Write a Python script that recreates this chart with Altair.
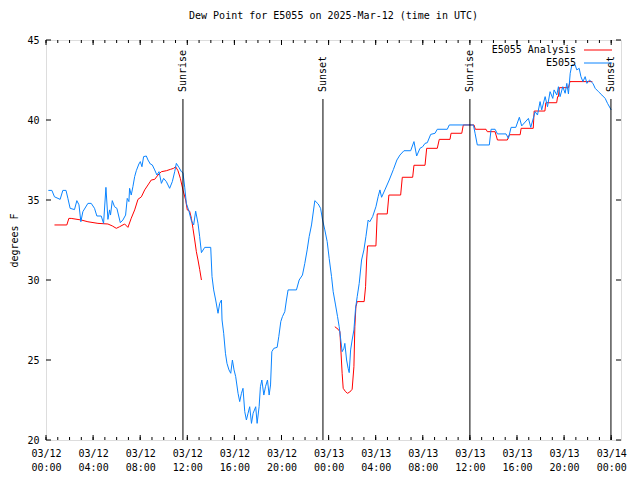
import altair as alt
import pandas as pd

FONT = "DejaVu Sans Mono"
title_text = "Dew Point for E5055 on 2025-Mar-12 (time in UTC)"
y_title = "degrees F"
series_names = ["E5055 Analysis", "E5055"]
series_colors = ["#ff0000", "#0a84ff"]

# observed dew point (hours since 2025-03-12 00:00 UTC)
blue_hours = [0.2, 0.5, 0.72, 1.2, 1.43, 1.7, 1.86, 2.05, 2.42, 2.62, 2.8, 2.96, 3.13, 3.56, 3.84, 4.12,
              4.32, 4.69, 4.89, 5.09, 5.26, 5.4, 5.48, 5.63, 5.82, 6.02, 6.31, 6.53, 6.76, 6.9, 7.04, 7.1,
              7.24, 7.38, 7.53, 7.67, 7.89, 8.01, 8.15, 8.29, 8.52, 8.66, 8.86, 9.03, 9.23, 9.42, 9.6, 9.8,
              9.99, 10.22, 10.5, 10.73, 10.93, 11.07, 11.29, 11.5, 11.63, 11.78, 11.92, 12.14, 12.35, 12.54,
              12.71, 12.91, 13.05, 13.2, 13.48, 13.99, 14.1, 14.24, 14.41, 14.61, 14.75, 14.9, 14.95, 15.09,
              15.24, 15.37, 15.54, 15.69, 15.83, 15.97, 16.11, 16.31, 16.45, 16.6, 16.73, 16.88, 17.02, 17.16,
              17.3, 17.45, 17.59, 17.81, 17.93, 18.1, 18.21, 18.33, 18.5, 18.64, 18.81, 18.95, 19.07, 19.18,
              19.35, 19.63, 19.77, 19.94, 20.08, 20.28, 20.42, 20.56, 21.27, 21.5, 21.78, 21.98, 22.18, 22.35,
              22.55, 22.83, 23.12, 23.32, 23.49, 23.68, 23.88, 24.05, 24.25, 24.39, 24.59, 24.76, 24.9, 25.02,
              25.15, 25.3, 25.38, 25.53, 25.66, 25.75, 25.87, 26.0, 26.15, 26.29, 26.43, 26.6, 26.8, 27.0,
              27.17, 27.36, 27.5, 27.74, 28.02, 28.21, 28.36, 28.5, 28.78, 29.15, 29.5, 29.8, 30.06, 30.4,
              30.97, 31.25, 31.48, 31.76, 31.99, 32.19, 32.38, 32.67, 33.04, 33.23, 34.08, 34.25, 36.3, 36.44,
              36.63, 37.65, 37.8, 38.14, 38.34, 39.07, 39.27, 39.5, 39.9, 40.2, 40.4, 40.97, 41.17, 41.54,
              41.74, 41.96, 42.1, 42.39, 42.59, 42.81, 43.04, 43.15, 43.38, 43.52, 43.66, 43.89, 44.09, 44.23,
              44.37, 44.52, 44.66, 44.94, 45.08, 45.28, 45.43, 45.6, 45.79, 45.94, 46.16, 46.45, 46.64, 46.92,
              47.21, 47.49, 47.69, 48.0]
blue_values = [35.6, 35.6, 35.2, 35.04, 35.6, 35.6, 35.1, 34.48, 34.4, 34.96, 34.7, 33.64, 34.27, 34.79, 34.79, 34.48,
               34.0, 34.0, 33.54, 35.79, 33.79, 34.38, 34.06, 34.96, 34.58, 34.48, 33.58, 33.75, 34.06, 35.1, 34.9, 35.73,
               35.31, 35.83, 36.46, 36.83, 37.25, 37.4, 37.08, 37.71, 37.75, 37.5, 37.25, 37.19, 36.88, 36.56, 36.77, 36.04,
               36.35, 36.15, 35.73, 36.15, 36.77, 37.29, 37.04, 36.77, 36.71, 35.8, 34.79, 34.3, 33.7, 33.44,
               34.3, 33.54, 32.71, 31.71, 32.04, 32.04, 30.21, 29.38, 28.75, 27.92, 28.54, 28.75, 27.5, 26.67,
               25.42, 24.79, 24.38, 24.17, 25.0, 24.38, 23.96, 22.92, 22.4, 22.92, 23.23, 21.77, 21.25, 21.67,
               22.08, 21.04, 21.67, 22.08, 21.04, 22.08, 23.33, 23.75, 22.81, 23.33, 23.75, 22.81, 23.44, 25.52,
               25.73, 25.79, 26.46, 27.4, 27.71, 28.02, 28.75, 29.38, 29.38, 30.0, 30.31, 31.04, 31.88, 32.71,
               33.44, 34.96, 34.75, 34.48, 33.75, 33.13, 32.4, 31.35, 30.21, 29.27, 28.44, 27.71, 27.08, 26.35,
               25.52, 25.73, 26.04, 25.0, 24.48, 24.21, 25.63, 26.25, 26.88, 28.23, 28.96, 29.79, 31.25, 31.88,
               32.71, 33.75, 33.64, 33.96, 34.58, 35.21, 35.63, 35.17, 35.63, 36.25, 36.9, 37.5, 37.81, 38.08,
               38.08, 38.65, 37.75, 38.23, 38.33, 38.54, 38.58, 39.1, 39.17, 39.42, 39.42, 39.69, 39.69, 39.17,
               38.44, 38.44, 39.42, 39.42, 39.13, 39.13, 38.85, 39.54, 39.54, 40.17, 39.63, 40.1, 39.54, 40.52,
               40.31, 41.15, 40.63, 41.46, 40.83, 41.77, 41.35, 41.88, 41.56, 42.08, 41.46, 42.08, 41.67, 42.29,
               41.63, 42.92, 43.44, 43.44, 43.13, 43.23, 42.71, 42.4, 42.71, 42.29, 42.5, 42.29, 41.98, 41.77,
               41.56, 41.35, 41.04, 40.63]

# analysis, two separate pieces
red1_hours = [0.72, 1.77, 1.94, 2.14, 2.99, 3.56, 4.41, 5.26, 5.63, 5.97, 6.25, 6.68, 6.96, 7.24, 7.53, 7.81,
              8.1, 8.38, 8.66, 8.94, 9.23, 9.51, 9.8, 10.22, 10.59, 10.84, 11.01, 11.21, 11.41, 11.63, 11.86,
              12.0, 12.2, 12.35, 12.48, 12.63, 12.77, 12.91, 13.05, 13.2]
red1_values = [33.44, 33.44, 33.85, 33.85, 33.75, 33.64, 33.54, 33.5, 33.38, 33.23, 33.33, 33.5, 33.29, 33.86, 34.38, 35.04,
               35.2, 35.63, 35.94, 36.25, 36.29, 36.56, 36.77, 36.83, 36.92, 36.98, 37.08, 36.83, 36.35, 35.63, 35.0,
               34.38, 34.3, 33.85, 33.23, 32.5, 31.77, 31.25, 30.67, 30.0]
red2_hours = [24.53, 24.81, 24.96, 25.15, 25.24, 25.44, 25.61, 25.8, 26.0, 26.15, 26.23, 26.32, 26.43, 27.02,
              27.14, 27.23, 27.31, 28.02, 28.13, 28.98, 29.12, 30.12, 30.26, 31.14, 31.25, 32.19, 32.33, 33.23,
              33.4, 34.31, 34.4, 35.31, 35.44, 36.35, 36.46, 37.37, 37.48, 38.14, 38.34, 39.18, 39.35, 40.27,
              40.35, 41.38, 41.46, 42.37, 42.45, 43.37, 43.45, 43.52, 43.6, 44.37, 44.5, 46.4]
red2_values = [27.08, 26.92, 26.77, 24.17, 23.23, 23.02, 22.92, 23.0, 23.17, 24.58, 27.08, 28.33, 28.65, 28.65,
               29.58, 31.25, 32.13, 32.13, 34.13, 34.13, 35.31, 35.31, 36.42, 36.42, 37.17, 37.17, 38.23, 38.23,
               38.79, 38.79, 39.17, 39.17, 39.69, 39.69, 39.42, 39.42, 39.27, 39.27, 38.75, 38.75, 39.08, 39.08,
               39.48, 39.48, 40.56, 40.56, 41.08, 41.08, 41.46, 41.46, 42.02, 42.02, 42.4, 42.4]

event_labels = ["Sunrise", "Sunset", "Sunrise", "Sunset"]
event_hours = [11.63, 23.52, 36.0, 47.98]

x_tick_hours = [0, 4, 8, 12, 16, 20, 24, 28, 32, 36, 40, 44, 48]
minor_tick_hours = list(range(0, 49))
y_ticks = [20, 25, 30, 35, 40, 45]
y_domain = [20, 45]

base = pd.Timestamp("2025-03-12T00:00:00")


def iso(hours):
    return [(base + pd.Timedelta(hours=h)).strftime("%Y-%m-%dT%H:%M:%SZ") for h in hours]


def dt(h):
    ts = base + pd.Timedelta(hours=h)
    return alt.DateTime(year=ts.year, month=ts.month, date=ts.day, hours=ts.hour, minutes=ts.minute, utc=True)


blue_df = pd.DataFrame({"t": iso(blue_hours), "v": blue_values, "i": range(len(blue_hours))})
red_df = pd.concat([
    pd.DataFrame({"t": iso(red1_hours), "v": red1_values, "seg": 1, "i": range(len(red1_hours))}),
    pd.DataFrame({"t": iso(red2_hours), "v": red2_values, "seg": 2,
                  "i": range(len(red1_hours), len(red1_hours) + len(red2_hours))}),
])
event_df = pd.DataFrame({"t": iso(event_hours), "label": event_labels})
major_df = pd.DataFrame({"t": iso(x_tick_hours)})
minor_df = pd.DataFrame({"t": iso(minor_tick_hours)})
ytick_df = pd.DataFrame({"v": y_ticks})

xscale = alt.Scale(type="utc", domain=[dt(0), dt(48 + 50 / 60)], nice=False)
yscale = alt.Scale(domain=y_domain, nice=False, zero=False)

xaxis = alt.Axis(values=[dt(h) for h in x_tick_hours],
                 labelExpr="[utcFormat(datum.value, '%m/%d'), utcFormat(datum.value, '%H:%M')]",
                 ticks=False, domain=False, grid=False, labelPadding=8, labelLineHeight=14,
                 title=None, labelFont=FONT, labelFontSize=10, labelColor="black",
                 labelFlush=False, labelOverlap=False, labelAlign="center")
yaxis = alt.Axis(values=y_ticks, ticks=False, domain=False, grid=False, labelPadding=7,
                 title=y_title, titleFont=FONT, titleFontSize=10, titleFontWeight="normal",
                 titleColor="black", titlePadding=7, labelFont=FONT, labelFontSize=10,
                 labelColor="black", labelFlush=False)


def X():
    return alt.X("t:T", scale=xscale, axis=xaxis)


def Y():
    return alt.Y("v:Q", scale=yscale, axis=yaxis)


red_line = alt.Chart(red_df).mark_line(color=series_colors[0], strokeWidth=1).encode(
    x=X(), y=Y(), detail="seg:N", order="i:Q")
blue_line = alt.Chart(blue_df).mark_line(color=series_colors[1], strokeWidth=1).encode(
    x=X(), y=Y(), order="i:Q")

event_rules = alt.Chart(event_df).mark_rule(color="black", strokeWidth=1).encode(
    x=X(), y=alt.value(59), y2=alt.value(400))
event_text = alt.Chart(event_df).mark_text(angle=270, align="left", baseline="middle",
                                           font=FONT, fontSize=10, color="black").encode(
    x=X(), y=alt.value(52), text="label:N")

major_bottom = alt.Chart(major_df).mark_rule(color="black").encode(x=X(), y=alt.value(400), y2=alt.value(395))
major_top = alt.Chart(major_df).mark_rule(color="black").encode(x=X(), y=alt.value(0), y2=alt.value(5))
minor_bottom = alt.Chart(minor_df).mark_rule(color="black").encode(x=X(), y=alt.value(400), y2=alt.value(397))
minor_top = alt.Chart(minor_df).mark_rule(color="black").encode(x=X(), y=alt.value(0), y2=alt.value(3))
ytick_left = alt.Chart(ytick_df).mark_rule(color="black").encode(y=Y(), x=alt.value(0), x2=alt.value(5))
ytick_right = alt.Chart(ytick_df).mark_rule(color="black").encode(y=Y(), x=alt.value(575), x2=alt.value(570))

leg_df = pd.DataFrame({"name": series_names, "row": [0, 1]})
leg_text0 = alt.Chart(leg_df).transform_filter("datum.row == 0").mark_text(
    align="right", baseline="middle", font=FONT, fontSize=10, color="black").encode(
    text="name:N", x=alt.value(530), y=alt.value(10))
leg_text1 = alt.Chart(leg_df).transform_filter("datum.row == 1").mark_text(
    align="right", baseline="middle", font=FONT, fontSize=10, color="black").encode(
    text="name:N", x=alt.value(530), y=alt.value(23))
leg_line0 = alt.Chart(leg_df).transform_filter("datum.row == 0").mark_rule(
    color=series_colors[0], strokeWidth=1).encode(x=alt.value(538), x2=alt.value(566), y=alt.value(10))
leg_line1 = alt.Chart(leg_df).transform_filter("datum.row == 1").mark_rule(
    color=series_colors[1], strokeWidth=1).encode(x=alt.value(538), x2=alt.value(566), y=alt.value(23))

chart = alt.layer(
    red_line, blue_line, event_rules, event_text,
    major_bottom, major_top, minor_bottom, minor_top, ytick_left, ytick_right,
    leg_text0, leg_text1, leg_line0, leg_line1,
).properties(
    width=575, height=400,
    title=alt.TitleParams(title_text, font=FONT, fontSize=10, fontWeight="normal",
                          color="black", offset=14, anchor="middle"),
    autosize=alt.AutoSizeParams(type="none"),
    padding={"left": 38, "top": 32, "right": 11, "bottom": 32},
).configure_view(stroke="black", strokeWidth=1).configure(background="white")

chart.save("out.html", embed_options={"renderer": "svg", "actions": False})
